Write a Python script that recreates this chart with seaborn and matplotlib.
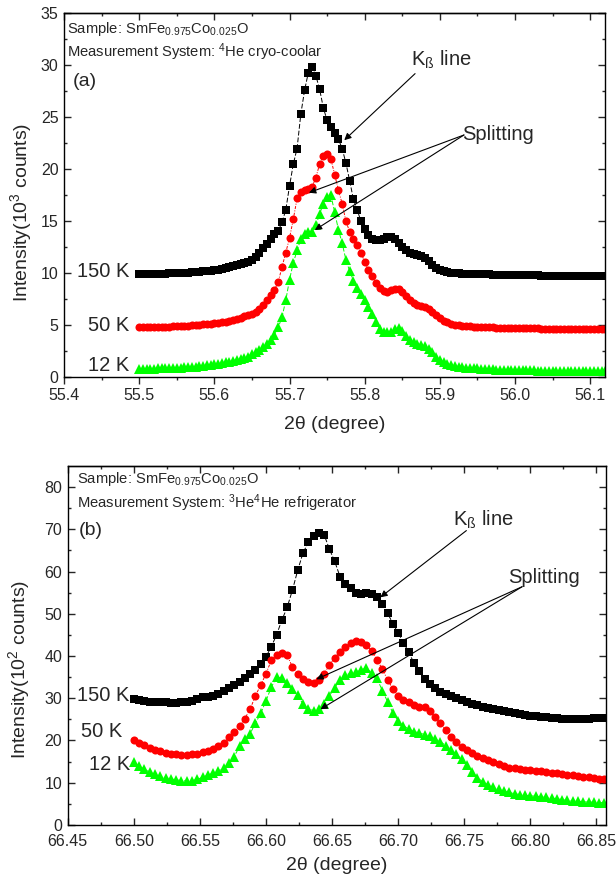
import numpy as np
import pandas as pd
import matplotlib
matplotlib.use("Agg")
import matplotlib.pyplot as plt
import seaborn as sns

# %% data
# panel (a): 4He cryo-coolar, intensity in 10^3 counts
x_a_start, x_a_step = 55.50, 0.005
a_150K = [
    9.9, 9.9, 9.9, 9.9, 9.9, 9.95, 9.95, 9.95, 10.0, 10.0,
    10.0, 10.0, 10.05, 10.05, 10.1, 10.1, 10.15, 10.2, 10.2, 10.25,
    10.3, 10.35, 10.45, 10.55, 10.65, 10.75, 10.8, 10.9, 10.95, 11.1,
    11.3, 11.6, 12.0, 12.4, 12.8, 13.3, 13.8, 14.1, 14.9, 16.1,
    18.4, 20.5, 22.0, 25.3, 27.6, 29.3, 29.8, 29.0, 27.7, 25.9,
    24.7, 24.1, 23.5, 22.9, 22.0, 20.6, 18.9, 17.1, 16.1, 15.0,
    14.3, 13.7, 13.3, 13.2, 13.2, 13.3, 13.5, 13.5, 13.3, 12.9,
    12.5, 12.2, 12.0, 11.9, 11.8, 11.7, 11.5, 11.2, 10.8, 10.5,
    10.3, 10.2, 10.1, 10.05, 10.0, 10.0, 9.95, 9.95, 9.95, 9.9,
    9.9, 9.9, 9.9, 9.9, 9.85, 9.85, 9.85, 9.85, 9.85, 9.8,
    9.8, 9.8, 9.8, 9.8, 9.8, 9.8, 9.8, 9.75, 9.75, 9.75,
    9.75, 9.75, 9.75, 9.75, 9.7, 9.7, 9.7, 9.7, 9.7, 9.7,
    9.7, 9.7, 9.7, 9.7, 9.7]
a_50K = [
    4.8, 4.8, 4.8, 4.8, 4.8, 4.8, 4.85, 4.85, 4.85, 4.9,
    4.9, 4.9, 4.95, 4.95, 5.0, 5.0, 5.05, 5.1, 5.1, 5.15,
    5.2, 5.25, 5.3, 5.35, 5.45, 5.55, 5.6, 5.7, 5.85, 6.0,
    6.1, 6.3, 6.6, 7.0, 7.4, 7.9, 8.4, 9.2, 10.6, 12.0,
    13.4, 15.2, 17.2, 17.8, 18.0, 18.1, 18.3, 19.2, 20.5, 21.3,
    21.5, 21.0, 19.5, 18.0, 16.7, 15.0, 14.0, 13.3, 12.7, 12.0,
    11.1, 10.3, 9.7, 9.1, 8.6, 8.3, 8.25, 8.35, 8.5, 8.45,
    8.2, 7.8, 7.4, 7.15, 7.0, 6.9, 6.75, 6.6, 6.3, 6.0,
    5.7, 5.45, 5.3, 5.15, 5.05, 5.0, 4.95, 4.9, 4.9, 4.85,
    4.85, 4.8, 4.8, 4.8, 4.8, 4.75, 4.75, 4.75, 4.75, 4.7,
    4.7, 4.7, 4.7, 4.7, 4.7, 4.7, 4.7, 4.65, 4.65, 4.65,
    4.65, 4.65, 4.65, 4.65, 4.6, 4.6, 4.6, 4.6, 4.6, 4.6,
    4.6, 4.6, 4.6, 4.6, 4.6]
a_12K = [
    0.8, 0.8, 0.8, 0.8, 0.8, 0.85, 0.85, 0.85, 0.85, 0.9,
    0.9, 0.9, 0.95, 0.95, 1.0, 1.0, 1.05, 1.1, 1.15, 1.2,
    1.25, 1.3, 1.35, 1.45, 1.5, 1.6, 1.7, 1.8, 1.9, 2.0,
    2.2, 2.4, 2.6, 2.9, 3.2, 3.6, 4.1, 4.8, 5.8, 7.4,
    9.4, 11.0, 12.2, 13.3, 13.8, 14.0, 14.0, 14.6, 15.7, 16.7,
    17.3, 17.5, 15.9, 14.2, 12.9, 11.3, 10.2, 9.3, 8.6, 8.0,
    7.4, 6.8, 6.1, 5.3, 4.6, 4.4, 4.35, 4.4, 4.6, 4.7,
    4.5, 4.0, 3.6, 3.35, 3.2, 3.1, 3.0, 2.75, 2.4, 2.0,
    1.7, 1.45, 1.3, 1.15, 1.05, 1.0, 0.95, 0.9, 0.9, 0.85,
    0.85, 0.8, 0.8, 0.8, 0.8, 0.75, 0.75, 0.75, 0.75, 0.7,
    0.7, 0.7, 0.7, 0.7, 0.7, 0.7, 0.65, 0.65, 0.65, 0.65,
    0.65, 0.65, 0.6, 0.6, 0.6, 0.6, 0.6, 0.6, 0.6, 0.6,
    0.6, 0.6, 0.6, 0.6, 0.6]

# panel (b): 3He4He refrigerator, intensity in 10^2 counts
x_b_start, x_b_step = 66.50, 0.004
b_150K = [
    29.8, 29.5, 29.3, 29.2, 29.1, 29.1, 29.0, 28.9, 28.9, 29.0,
    29.1, 29.3, 29.8, 30.2, 30.4, 30.6, 31.1, 31.7, 32.5, 33.2,
    33.9, 34.7, 35.7, 36.8, 38.0, 39.8, 42.2, 45.0, 48.5, 51.5,
    55.6, 60.3, 64.4, 66.9, 68.4, 69.2, 68.7, 65.3, 62.4, 58.8,
    57.0, 56.1, 55.0, 54.7, 55.0, 54.7, 53.9, 52.4, 50.1, 47.7,
    45.4, 43.2, 40.9, 38.3, 36.4, 34.6, 33.3, 32.4, 31.6, 31.0,
    30.5, 30.0, 29.5, 29.1, 28.7, 28.3, 28.0, 27.7, 27.4, 27.2,
    26.9, 26.7, 26.5, 26.3, 26.1, 25.9, 25.8, 25.6, 25.5, 25.4,
    25.3, 25.2, 25.2, 25.1, 25.1, 25.2, 25.2, 25.3, 25.3, 25.4]
b_50K = [
    20.1, 19.5, 19.0, 18.3, 17.8, 17.4, 17.1, 16.9, 16.7, 16.6,
    16.6, 16.7, 16.9, 17.2, 17.6, 18.0, 18.6, 19.4, 20.8, 22.0,
    23.5, 25.2, 27.4, 30.6, 33.1, 35.8, 39.0, 40.3, 40.6, 40.2,
    37.4, 35.7, 34.6, 33.8, 33.6, 34.3, 35.8, 37.9, 39.6, 41.0,
    42.1, 43.0, 43.6, 43.3, 42.6, 41.2, 39.1, 36.9, 34.4, 32.2,
    30.6, 29.7, 29.0, 28.3, 28.0, 27.9, 26.9, 25.6, 24.1, 22.5,
    20.9, 19.7, 18.4, 17.8, 17.1, 16.4, 15.9, 15.3, 14.8, 14.4,
    14.0, 13.6, 13.4, 13.3, 13.1, 13.0, 12.8, 12.7, 12.5, 12.4,
    12.2, 12.1, 11.9, 11.8, 11.6, 11.4, 11.3, 11.1, 11.0, 10.9]
b_12K = [
    14.9, 13.9, 13.2, 12.5, 12.0, 11.5, 11.2, 10.9, 10.7, 10.5,
    10.4, 10.5, 10.8, 11.3, 11.8, 12.3, 12.8, 13.4, 14.6, 16.2,
    18.6, 20.4, 21.6, 24.1, 26.4, 29.4, 32.6, 35.0, 34.8, 33.7,
    32.3, 30.7, 28.6, 27.4, 27.1, 27.4, 28.7, 30.6, 32.5, 34.3,
    35.5, 35.9, 36.2, 36.8, 37.1, 36.0, 34.7, 31.8, 29.2, 26.5,
    24.6, 23.5, 22.7, 22.1, 21.8, 21.4, 21.0, 20.3, 19.7, 18.8,
    17.8, 16.8, 15.6, 14.2, 12.6, 11.2, 10.2, 9.5, 8.9, 8.4,
    8.0, 7.7, 7.4, 7.2, 7.0, 6.9, 6.8, 6.7, 6.6, 6.4,
    6.2, 6.0, 5.8, 5.7, 5.6, 5.5, 5.4, 5.4, 5.3, 5.3]

temps = ["150 K", "50 K", "12 K"]
colors = ["#000000", "#ff0000", "#00ff00"]
markers = ["s", "o", "^"]
msizes = [5.2, 5.8, 6.6]
lstyles = [(0, (5, 2)), (0, (3, 1.5, 1, 1.5)), (0, (5, 2))]

xticks_a = [55.4, 55.5, 55.6, 55.7, 55.8, 55.9, 56.0, 56.1]
yticks_a = [0, 5, 10, 15, 20, 25, 30, 35]
xticks_b = [66.45, 66.50, 66.55, 66.60, 66.65, 66.70, 66.75, 66.80, 66.85]
yticks_b = [0, 10, 20, 30, 40, 50, 60, 70, 80]

# %% style
sns.set_theme(style="ticks")
plt.rcParams["font.family"] = ["Liberation Sans", "DejaVu Sans"]
plt.rcParams["mathtext.fontset"] = "custom"
plt.rcParams["mathtext.rm"] = "Liberation Sans"
plt.rcParams["mathtext.it"] = "Liberation Sans:italic"
plt.rcParams["mathtext.default"] = "regular"
plt.rcParams["axes.linewidth"] = 1.0


def make_df(start, step, values):
    x = np.round(start + step * np.arange(len(values)), 4)
    return pd.DataFrame({"x": x, "y": values})


def draw_series(ax, start, step, series):
    for vals, c, m, ms, ls in zip(series, colors, markers, msizes, lstyles):
        df = make_df(start, step, vals)
        sns.lineplot(data=df, x="x", y="y", ax=ax, color=c, marker=m,
                     markersize=ms, markeredgewidth=0, linewidth=0.7,
                     linestyle=ls, errorbar=None, estimator=None)


def style_axes(ax, xticks, yticks, xminor, yminor, xdir, xfmt, xpad):
    ax.set_xticks(xticks)
    ax.set_xticks(xminor, minor=True)
    ax.set_yticks(yticks)
    ax.set_yticks(yminor, minor=True)
    ax.set_xticklabels([xfmt.format(v) for v in xticks])
    ax.tick_params(axis="y", which="both", direction="in", left=True, right=True,
                   labelsize=11.5, pad=4, width=1.0)
    ax.tick_params(axis="x", which="both", direction=xdir, bottom=True, top=False,
                   labelsize=11.5, pad=xpad, width=1.0)
    ax.tick_params(which="major", length=5)
    ax.tick_params(which="minor", length=2.5)
    # inward ticks along the top edge
    sec = ax.secondary_xaxis("top")
    sec.set_xticks(xticks)
    sec.set_xticks(xminor, minor=True)
    sec.tick_params(which="both", direction="in", labeltop=False, width=1.0)
    sec.tick_params(which="major", length=5)
    sec.tick_params(which="minor", length=2.5)
    for s in ax.spines.values():
        s.set_visible(True)
        s.set_linewidth(1.0)
        s.set_color("black")


def arrow(ax, tail, tip):
    ax.annotate("", xy=tip, xytext=tail,
                arrowprops=dict(arrowstyle="-|>", color="black", lw=0.8,
                                mutation_scale=10, shrinkA=0, shrinkB=0))


fig = plt.figure(figsize=(6.16, 8.81), dpi=100)
ax1 = fig.add_axes([0.1039, 0.5717, 0.8787, 0.4132])
ax2 = fig.add_axes([0.1099, 0.0636, 0.8734, 0.4075])

# %% panel (a)
draw_series(ax1, x_a_start, x_a_step, [a_150K, a_50K, a_12K])
ax1.set_xlim(55.4, 56.12)
ax1.set_ylim(0, 35)
style_axes(ax1, xticks_a, yticks_a,
           [55.45, 55.55, 55.65, 55.75, 55.85, 55.95, 56.05],
           [2.5, 7.5, 12.5, 17.5, 22.5, 27.5, 32.5], "out", "{:.1f}", 3)
ax1.set_xlabel("2\u03b8 (degree)", fontsize=14)
ax1.set_ylabel("Intensity(10$^{3}$ counts)", fontsize=14)
ax1.xaxis.set_label_coords(0.5, -0.107)
ax1.yaxis.set_label_coords(-0.056, 0.454)

ax1.text(0.006, 0.946, "Sample: SmFe$_{0.975}$Co$_{0.025}$O", transform=ax1.transAxes,
         fontsize=10.6, va="baseline")
ax1.text(0.006, 0.880, "Measurement System: $^{4}$He cryo-coolar", transform=ax1.transAxes,
         fontsize=10.6, va="baseline")
ax1.text(55.411, 28.4, "(a)", fontsize=14, va="center")
for lbl, yv in zip(temps, [10.15, 5.0, 1.1]):
    ax1.text(55.487, yv, lbl, fontsize=14.5, ha="right", va="center")

ax1.text(55.862, 29.96, "K$_{\u00df}$ line", fontsize=14.5, va="baseline")
ax1.text(55.929, 22.8, "Splitting", fontsize=14.5, va="baseline")
arrow(ax1, (55.867, 29.2), (55.7728, 22.8))
arrow(ax1, (55.932, 23.3), (55.7258, 17.75))
arrow(ax1, (55.932, 23.3), (55.7336, 14.16))

# %% panel (b)
draw_series(ax2, x_b_start, x_b_step, [b_150K, b_50K, b_12K])
ax2.set_xlim(66.45, 66.857)
ax2.set_ylim(0, 85)
style_axes(ax2, xticks_b, yticks_b,
           [66.475, 66.525, 66.575, 66.625, 66.675, 66.725, 66.775, 66.825],
           [5, 15, 25, 35, 45, 55, 65, 75], "in", "{:.2f}", 6.5)
ax2.set_xlabel("2\u03b8 (degree)", fontsize=14)
ax2.set_ylabel("Intensity(10$^{2}$ counts)", fontsize=14)
ax2.xaxis.set_label_coords(0.5, -0.090)
ax2.yaxis.set_label_coords(-0.066, 0.432)

ax2.text(0.017, 0.953, "Sample: SmFe$_{0.975}$Co$_{0.025}$O", transform=ax2.transAxes,
         fontsize=10.6, va="baseline")
ax2.text(0.017, 0.883, "Measurement System: $^{3}$He$^{4}$He refrigerator",
         transform=ax2.transAxes, fontsize=10.6, va="baseline")
ax2.text(66.4586, 69.8, "(b)", fontsize=14, va="center")
for lbl, yv in zip(temps, [30.7, 22.2, 14.3]):
    ax2.text(66.497 if lbl != "50 K" else 66.491, yv, lbl, fontsize=14.5,
             ha="right", va="center")

ax2.text(66.7414, 70.8, "K$_{\u00df}$ line", fontsize=14.5, va="baseline")
ax2.text(66.7834, 57.4, "Splitting", fontsize=14.5, va="baseline")
arrow(ax2, (66.7516, 69.7), (66.6865, 53.9))
arrow(ax2, (66.7937, 56.4), (66.6381, 34.5))
arrow(ax2, (66.7937, 56.4), (66.6412, 27.4))

fig.savefig("out.png", dpi=100)
